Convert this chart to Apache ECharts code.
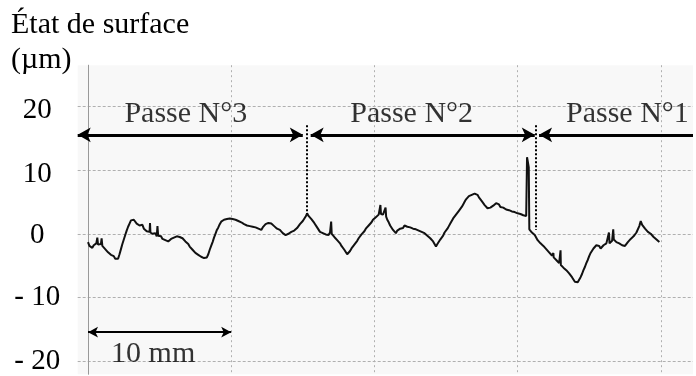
<!DOCTYPE html>
<html>
<head>
<meta charset="utf-8">
<script src="https://cdn.jsdelivr.net/npm/echarts@6/dist/echarts.min.js"></script>
<style>
html,body{margin:0;padding:0;background:#fff;}
#chart{width:696px;height:376px;}
</style>
</head>
<body>
<div id="chart"></div>
<script>
// ---- data (position along the part in mm, surface profile in µm) ----
const positionsMm = [
 0.00,0.10,0.20,0.30,0.40,0.50,0.58,0.65,0.70,0.80,0.90,0.95,1.00,1.10,1.20,1.30,1.40,1.50,1.60,1.70,1.80,1.90,2.00,2.10,2.20,2.30,2.40,2.50,2.60,2.70,2.80,2.90,
 3.00,3.10,3.20,3.30,3.40,3.50,3.60,3.70,3.80,3.90,4.00,4.10,4.20,4.30,4.33,4.36,4.50,4.60,4.70,4.80,4.85,4.90,5.00,5.10,5.20,5.30,5.40,5.50,5.60,5.70,5.80,5.90,
 6.00,6.10,6.20,6.30,6.40,6.50,6.60,6.70,6.80,6.90,7.00,7.10,7.20,7.30,7.40,7.50,7.60,7.70,7.80,7.90,8.00,8.10,8.20,8.30,8.40,8.50,8.60,8.70,8.80,8.90,
 9.00,9.10,9.20,9.30,9.40,9.50,9.60,9.70,9.80,9.90,10.00,10.10,10.20,10.30,10.40,10.50,10.60,10.70,10.80,10.90,11.00,11.10,11.20,11.30,11.40,11.50,11.60,11.70,11.80,11.90,
 12.00,12.10,12.20,12.30,12.40,12.50,12.60,12.70,12.80,12.90,13.00,13.10,13.20,13.30,13.40,13.50,13.60,13.70,13.80,13.90,14.00,14.10,14.20,14.30,14.40,14.50,14.60,14.70,14.80,14.90,
 15.00,15.10,15.20,15.30,15.40,15.50,15.60,15.70,15.80,15.90,16.00,16.10,16.20,16.30,16.40,16.50,16.60,16.70,16.80,16.90,16.98,17.02,17.10,17.20,17.30,17.40,17.50,17.60,17.70,17.80,17.90,
 18.00,18.10,18.20,18.30,18.40,18.50,18.60,18.70,18.80,18.90,19.00,19.10,19.20,19.30,19.40,19.50,19.60,19.70,19.80,19.90,20.00,20.10,20.20,20.30,20.40,20.42,20.46,20.60,20.70,20.78,20.82,20.90,
 21.00,21.10,21.20,21.30,21.40,21.50,21.60,21.70,21.80,21.90,22.00,22.10,22.20,22.30,22.40,22.50,22.60,22.70,22.80,22.90,23.00,23.10,23.20,23.30,23.40,23.50,23.60,23.70,23.80,23.90,
 24.00,24.10,24.20,24.30,24.40,24.50,24.60,24.70,24.80,24.90,25.00,25.10,25.20,25.30,25.40,25.50,25.60,25.70,25.80,25.90,26.00,26.10,26.20,26.30,26.40,26.50,26.60,26.70,26.80,26.90,
 27.00,27.10,27.20,27.30,27.40,27.50,27.60,27.70,27.80,27.90,28.00,28.10,28.20,28.30,28.40,28.50,28.60,28.70,28.80,28.90,29.00,29.10,29.20,29.30,29.40,29.50,29.60,29.70,29.80,29.90,
 30.00,30.10,30.20,30.30,30.40,30.50,30.60,30.66,30.72,30.78,30.82,30.90,31.00,31.10,31.20,31.30,31.40,31.50,31.60,31.70,31.80,31.90,
 32.00,32.10,32.20,32.30,32.40,32.48,32.50,32.52,32.60,32.70,32.80,32.90,32.98,33.00,33.02,33.10,33.20,33.30,33.40,33.50,33.60,33.70,33.80,33.90,
 34.00,34.10,34.20,34.30,34.40,34.50,34.60,34.70,34.80,34.90,35.00,35.10,35.20,35.30,35.40,35.50,35.60,35.70,35.80,35.90,
 36.00,36.10,36.20,36.30,36.38,36.42,36.50,36.60,36.68,36.72,36.80,36.90,37.00,37.10,37.20,37.30,37.40,37.50,37.60,37.70,37.80,37.90,
 38.00,38.10,38.20,38.30,38.40,38.50,38.60,38.70,38.80,38.90,39.00,39.10,39.20,39.30,39.40,39.50,39.60,39.70,39.80,39.90
];
const profileUm = [
 -1.3,-1.9,-1.6,-2.2,-1.8,-2.0,-1.5,-0.6,-1.7,-2.0,-1.6,-0.7,-1.9,-2.2,-2.4,-2.6,-2.9,-3.1,-3.3,-3.6,-3.5,-3.9,-3.7,-3.9,-3.2,-2.4,-1.6,-0.9,-0.2,0.5,1.1,1.6,
 2.1,1.8,2.2,1.9,1.6,1.9,1.3,1.1,1.4,0.8,0.7,0.4,0.6,0.3,1.7,0.2,0.0,-0.3,0.1,-0.4,1.2,-0.3,-0.5,-0.4,-0.8,-0.6,-1.0,-0.9,-1.2,-1.0,-0.8,-0.9,
 -0.6,-0.7,-0.4,-0.7,-0.5,-0.8,-0.7,-1.0,-1.2,-1.5,-1.6,-2.0,-2.2,-2.5,-2.7,-3.0,-2.9,-3.3,-3.2,-3.6,-3.4,-3.8,-4.1,-3.7,-3.2,-2.5,-1.9,-1.3,-0.6,0.0,
 0.6,1.0,1.5,1.9,1.7,2.2,1.9,2.3,2.0,2.4,2.1,2.3,2.6,2.2,2.4,2.0,2.2,1.8,1.9,1.5,1.7,1.3,1.6,1.2,1.5,1.1,1.3,1.0,1.2,0.8,
 0.9,0.6,1.0,1.2,1.5,1.3,1.7,1.4,1.6,1.3,1.2,0.9,0.8,0.5,0.6,0.3,0.1,0.2,-0.2,-0.3,0.0,-0.1,0.3,0.2,0.5,0.4,0.9,1.1,1.5,1.7,
 2.0,2.3,2.7,3.2,2.8,2.6,2.3,2.1,1.7,1.4,1.0,0.7,0.3,0.5,0.1,0.3,-0.1,0.1,-0.2,0.2,1.9,0.0,-0.2,-0.5,-0.6,-1.0,-1.3,-1.5,-1.9,-2.2,-2.5,
 -2.8,-3.2,-2.9,-2.7,-2.3,-2.1,-1.7,-1.5,-1.1,-0.7,-0.5,-0.1,0.2,0.4,0.8,1.0,1.3,1.6,1.8,2.2,2.4,2.6,2.9,3.0,3.3,4.5,3.1,3.0,2.8,4.1,2.7,2.2,
 1.8,1.3,1.0,0.6,0.3,0.1,0.5,0.4,0.8,1.0,0.9,1.3,1.4,1.1,1.3,1.0,1.2,0.8,1.0,0.7,0.8,0.5,0.6,0.3,0.4,0.1,0.0,-0.3,-0.4,-0.7,
 -0.8,-1.2,-1.5,-2.0,-1.6,-1.3,-0.9,-0.7,-0.3,0.2,0.5,0.8,1.2,1.6,1.9,2.4,2.7,3.0,3.3,3.6,3.8,4.2,4.6,5.0,5.4,5.6,5.9,5.8,6.1,6.0,
 6.3,6.0,6.1,5.7,5.6,5.1,4.8,4.5,4.3,4.0,3.8,4.1,3.9,4.4,4.5,4.8,4.5,4.6,4.2,4.4,4.1,4.2,3.8,4.0,3.7,3.9,3.5,3.7,3.4,3.6,
 3.2,3.4,3.1,3.3,2.9,3.1,2.8,12.0,11.2,10.4,0.7,0.4,0.2,0.3,-0.2,-0.4,-1.0,-1.3,-1.5,-1.8,-1.9,-2.2,
 -2.4,-2.6,-2.9,-3.2,-3.4,-3.6,-3.0,-3.7,-3.9,-4.1,-4.4,-4.6,-4.8,-2.6,-4.9,-5.0,-5.3,-5.5,-5.7,-5.9,-6.2,-6.5,-6.8,-7.1,
 -7.5,-7.8,-7.6,-7.3,-6.8,-6.3,-5.7,-5.2,-4.6,-4.1,-3.5,-3.0,-2.7,-2.3,-2.2,-1.8,-2.1,-1.9,-2.3,-2.0,
 -1.8,-1.9,-1.5,-1.7,0.2,-1.5,-1.3,-1.1,0.7,-0.9,-1.0,-1.3,-1.2,-1.5,-1.4,-1.8,-1.7,-1.9,-1.6,-1.3,-1.1,-0.8,
 -0.6,-0.4,-0.1,0.2,0.4,1.2,2.0,1.4,1.2,0.8,0.6,0.3,0.5,0.0,-0.2,-0.5,-0.4,-0.9,-1.0,-1.3
];
const yTickValues = [-20, -10, 0, 10, 20];
const passNames = ['Passe N°3', 'Passe N°2', 'Passe N°1'];
const passLabelMm = [6.83, 22.6, 37.67];
const passArrowStartMm = [-0.72, 15.55, 31.5];
const passArrowEndMm = [15.0, 31.2, 42.25];
const passArrowUm = 15.5;
const passLabelUm = 18.8;
const passBoundaryMm = [15.3, 31.25];
const passBoundaryTopUm = 17.0;
const passBoundaryBottomUm = [3.1, 0.6];
const scaleBarMm = [0, 10];
const scaleBarUm = -15.4;
const scaleBarText = '10 mm';
const scaleBarTextMm = 4.55;
const scaleBarTextUm = -18.9;

// ---- chart ----
const FONT = 'Liberation Serif';
const chart = echarts.init(document.getElementById('chart'), null, {renderer: 'canvas'});

const profileData = positionsMm.map((x, i) => [x, profileUm[i]]);

const arrowLines = passNames.map((n, i) => [
  {coord: [passArrowStartMm[i], passArrowUm], symbol: 'arrow', symbolSize: [11, 13],
   lineStyle: {color: '#000', width: 3, type: 'solid'}},
  {coord: [passArrowEndMm[i], passArrowUm], symbol: i === 2 ? 'none' : 'arrow', symbolSize: [11, 13]}
]);
const boundaryLines = passBoundaryMm.map((x, i) => [
  {coord: [x, passBoundaryTopUm], symbol: 'none', lineStyle: {color: '#000', width: 2, type: [2, 2]}},
  {coord: [x, passBoundaryBottomUm[i]], symbol: 'none'}
]);
const scaleLine = [
  {coord: [scaleBarMm[0], scaleBarUm], symbol: 'arrow', symbolSize: [8, 10],
   lineStyle: {color: '#000', width: 2, type: 'solid'}},
  {coord: [scaleBarMm[1], scaleBarUm], symbol: 'arrow', symbolSize: [8, 10]}
];

const textItems = passNames.map((n, i) => ({name: n, value: [passLabelMm[i], passLabelUm]}));
textItems.push({name: scaleBarText, value: [scaleBarTextMm, scaleBarTextUm]});

const labelFont = {fontFamily: FONT, fontSize: 29, color: '#000'};

chart.setOption({
  animation: false,
  backgroundColor: '#ffffff',
  title: {
    text: 'État de surface\n(µm)',
    left: 11,
    top: 8,
    padding: 0,
    textStyle: {fontFamily: FONT, fontSize: 30, fontWeight: 'normal', color: '#000', lineHeight: 35}
  },
  grid: {
    left: 77.7, right: 3, top: 65.2, bottom: -5.25,
    show: true, backgroundColor: '#f8f8f8', borderWidth: 0
  },
  xAxis: {
    type: 'value', min: -0.72, max: 42.25, splitNumber: 5,
    axisLine: {show: false}, axisTick: {show: false}, axisLabel: {show: false},
    splitLine: {show: true, showMinLine: false, showMaxLine: false,
      lineStyle: {color: '#b0b0b0', width: 1, type: [2, 3]}}
  },
  yAxis: {
    type: 'value', min: -22, max: 26.4, splitNumber: 5,
    axisLine: {show: true, onZero: true, lineStyle: {color: '#999', width: 1}},
    axisTick: {show: false},
    axisLabel: {
      show: true, customValues: yTickValues,
      margin: 40.5, align: 'center', fontFamily: FONT, fontSize: 29, color: '#000',
      formatter: v => v >= 10 ? '{hi|' + v + '}' : (v === 0 ? '{mid|0}' : '{lo|- ' + Math.abs(v) + '}'),
      rich: {
        hi: Object.assign({padding: [9, 0, 0, 0]}, labelFont),
        mid: Object.assign({padding: [3, 0, 0, 0]}, labelFont),
        lo: Object.assign({padding: [0, 0, 0, 0]}, labelFont)
      }
    },
    splitLine: {show: true, showMinLine: false, showMaxLine: false,
      lineStyle: {color: '#b0b0b0', width: 1, type: [3, 2]}}
  },
  series: [
    {
      name: 'profile', type: 'line', data: profileData,
      showSymbol: false, symbol: 'none', clip: false, z: 3,
      lineStyle: {color: '#111', width: 2},
      markLine: {
        silent: true, animation: false,
        label: {show: false},
        emphasis: {disabled: true},
        data: arrowLines.concat(boundaryLines).concat([scaleLine])
      }
    },
    {
      name: 'texts', type: 'scatter', data: textItems, z: 4,
      symbolSize: 1, itemStyle: {color: 'rgba(0,0,0,0)'},
      silent: true,
      label: {show: true, position: 'inside', formatter: p => p.name,
        fontFamily: FONT, fontSize: 30, color: '#000'}
    }
  ]
});
</script>
</body>
</html>
